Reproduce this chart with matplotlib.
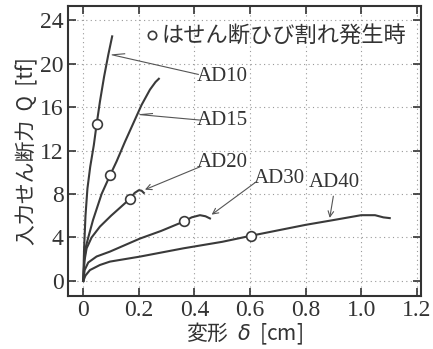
import matplotlib
matplotlib.use("Agg")
import matplotlib.pyplot as plt

plt.rcParams['font.family'] = ['Liberation Serif', 'Noto Sans CJK JP', 'DejaVu Sans']

# deformation delta [cm] and shear force Q [tf] for each specimen
ad10_x = [0, 0.003, 0.008, 0.015, 0.025, 0.038, 0.048, 0.06, 0.075, 0.09, 0.104]
ad10_y = [0, 3.0, 6.0, 8.5, 10.5, 12.5, 14.4, 16.5, 18.8, 20.8, 22.5]
ad15_x = [0, 0.004, 0.01, 0.018, 0.035, 0.066, 0.096, 0.12, 0.15, 0.18, 0.21, 0.24, 0.26, 0.272]
ad15_y = [0, 2.0, 3.2, 4.0, 5.6, 8.0, 9.7, 11.0, 12.8, 14.5, 16.2, 17.6, 18.3, 18.6]
ad20_x = [0, 0.004, 0.012, 0.03, 0.06, 0.1, 0.135, 0.168, 0.185, 0.2, 0.21, 0.218]
ad20_y = [0, 1.8, 3.0, 4.0, 5.0, 6.0, 6.8, 7.56, 8.1, 8.35, 8.3, 8.1]
ad30_x = [0, 0.005, 0.018, 0.048, 0.096, 0.15, 0.204, 0.28, 0.362, 0.39, 0.42, 0.44, 0.456]
ad30_y = [0, 1.0, 1.7, 2.25, 2.7, 3.3, 3.9, 4.6, 5.47, 5.85, 6.05, 5.95, 5.75]
ad40_x = [0, 0.008, 0.024, 0.06, 0.096, 0.204, 0.36, 0.5, 0.602, 0.8, 0.9, 1.0, 1.05, 1.08, 1.103]
ad40_y = [0, 0.5, 1.0, 1.47, 1.78, 2.24, 3.0, 3.6, 4.15, 5.16, 5.6, 6.05, 6.05, 5.85, 5.78]

# shear crack points
crack_x = [0.048, 0.096, 0.168, 0.362, 0.602]
crack_y = [14.4, 9.74, 7.56, 5.47, 4.15]

labels = ['AD10', 'AD15', 'AD20', 'AD30', 'AD40']
label_pos = [(0.5, 18.8), (0.5, 14.8), (0.5, 10.9), (0.705, 9.4), (0.903, 9.1)]
arrow_tip = [(0.104, 20.8), (0.204, 15.3), (0.222, 8.4), (0.462, 6.1), (0.887, 5.8)]
arrow_tail = [(0.414, 19.0), (0.42, 14.8), (0.42, 10.5), (0.624, 9.15), (0.9, 7.8)]
barbed = [True, True, False, False, False]

lc = '#3a3a3a'
fig = plt.figure(figsize=(4.33, 3.49), dpi=100)
ax = fig.add_axes([0.157, 0.152, 0.815, 0.831])

for xs, ys in [(ad10_x, ad10_y), (ad15_x, ad15_y), (ad20_x, ad20_y),
               (ad30_x, ad30_y), (ad40_x, ad40_y)]:
    ax.plot(xs, ys, color=lc, lw=1.5, zorder=3)
ax.plot(crack_x, crack_y, 'o', ms=7, mfc='white', mec=lc, mew=1.2, zorder=4)

for lab, (lx, ly), tip, tail, b in zip(labels, label_pos, arrow_tip, arrow_tail, barbed):
    ax.text(lx, ly, lab, fontsize=15, color='#333333', ha='center', va='center')
    if b:
        ax.plot([tail[0], tip[0], tip[0] + 0.045], [tail[1], tip[1], tip[1] + 0.1],
                color='#555555', lw=0.8)
    else:
        ax.annotate('', xy=tip, xytext=tail,
                    arrowprops=dict(arrowstyle='->', color='#555555', lw=0.8,
                                    shrinkA=0, shrinkB=0))

# legend note
ax.plot([0.246], [22.6], 'o', ms=6, mfc='white', mec=lc, mew=1.2)
ax.text(0.282, 22.6, 'はせん断ひび割れ発生時', fontsize=16, color='#333333',
        va='center', ha='left', family=['Noto Sans CJK JP'])

ax.set_xlim(-0.055, 1.215)
ax.set_ylim(-1.38, 25.3)
ax.set_xticks([0, 0.2, 0.4, 0.6, 0.8, 1.0, 1.2])
ax.set_xticklabels(['0', '0.2', '0.4', '0.6', '0.8', '1.0', '1.2'])
ax.set_yticks([0, 4, 8, 12, 16, 20, 24])
ax.tick_params(direction='in', length=6, width=1.2, top=True, right=True,
               labelsize=17, colors='#333333', pad=3)
ax.grid(True, linestyle=(0, (1, 3)), color='#999999', lw=0.8)
for s in ax.spines.values():
    s.set_linewidth(1.5)
    s.set_color('#333333')

ax.set_xlabel('変形  $\\delta$  [cm]', fontsize=15, color='#333333', labelpad=0,
              family=['Noto Sans CJK JP', 'DejaVu Sans'])
ax.set_ylabel('入力せん断力  Q  [tf]', fontsize=15, color='#333333', labelpad=1,
              family=['Noto Sans CJK JP', 'DejaVu Sans'])

fig.savefig('out.png', dpi=100)
